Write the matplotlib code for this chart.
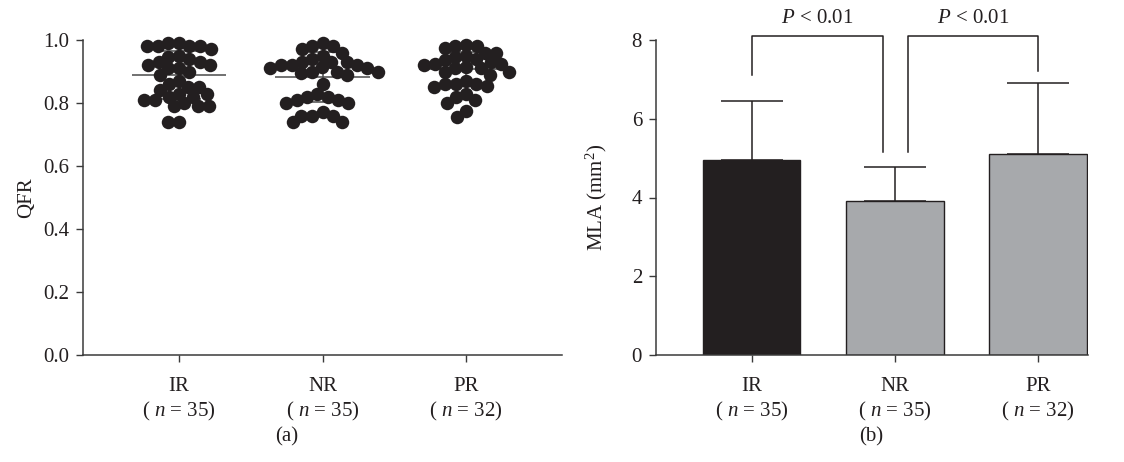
import numpy as np
import matplotlib
matplotlib.use("Agg")
import matplotlib.pyplot as plt

# ---------------- data ----------------
groups = ["IR", "NR", "PR"]
group_n = [35, 35, 32]

ir_qfr = [0.98, 0.98, 0.99, 0.97, 0.99, 0.98, 0.98,
          0.95, 0.94, 0.93, 0.92, 0.91, 0.89, 0.90, 0.91, 0.92, 0.93, 0.945,
          0.86, 0.85, 0.83, 0.82, 0.81, 0.80, 0.81, 0.82, 0.83, 0.84, 0.85, 0.87,
          0.79, 0.79, 0.79, 0.74, 0.74]
nr_qfr = [0.98, 0.98, 0.99, 0.97, 0.96, 0.95, 0.94,
          0.93, 0.93,
          0.92, 0.92, 0.915, 0.90, 0.895, 0.89, 0.90, 0.91, 0.92, 0.93, 0.90, 0.91,
          0.86,
          0.83, 0.81, 0.82, 0.80, 0.82, 0.80, 0.81,
          0.76, 0.76, 0.74, 0.74, 0.76, 0.77]
pr_qfr = [0.98, 0.96, 0.985, 0.975, 0.98, 0.96,
          0.945, 0.935, 0.925, 0.915, 0.90, 0.89, 0.91, 0.925, 0.94, 0.95, 0.93, 0.92, 0.91, 0.90,
          0.86, 0.86, 0.855, 0.86, 0.87, 0.85,
          0.83, 0.82, 0.81, 0.80, 0.775, 0.755]
qfr_mean = [0.889, 0.883, 0.909]
qfr_sd = [0.075, 0.079, 0.054]

mla_mean = [4.95, 3.92, 5.10]
mla_sd = [1.50, 0.86, 1.82]

p_text = ["$P$ < 0.01", "$P$ < 0.01"]
qfr_ticks = [0.0, 0.2, 0.4, 0.6, 0.8, 1.0]
mla_ticks = [0, 2, 4, 6, 8]

# ---------------- style ----------------
plt.rcParams["font.family"] = ["Liberation Serif", "DejaVu Serif"]
plt.rcParams["mathtext.fontset"] = "custom"
plt.rcParams["mathtext.rm"] = "Liberation Serif"
plt.rcParams["mathtext.it"] = "Liberation Serif:italic"
FS = 15
plt.rcParams["font.size"] = FS

INK = "#231f20"
AX = "#3a3a3a"
GRAY = "#a7a9ac"

W, H = 1124, 462
fig = plt.figure(figsize=(W / 100, H / 100), dpi=100)

def frac(x0, x1, ytop, ybot):
    return [x0 / W, 1 - ybot / H, (x1 - x0) / W, (ybot - ytop) / H]

ax1 = fig.add_axes(frac(83, 562, 40, 355))
ax2 = fig.add_axes(frac(656, 1088, 40, 355))

xlabels = [f"{g}\n( $n$ = {n})" for g, n in zip(groups, group_n)]
x = np.arange(len(groups))

for ax in (ax1, ax2):
    for s in ("top", "right"):
        ax.spines[s].set_visible(False)
    for s in ("left", "bottom"):
        ax.spines[s].set_color(AX)
        ax.spines[s].set_linewidth(1.1)
    ax.tick_params(direction="out", length=5, width=1.0, color=AX,
                   labelcolor=INK, labelsize=FS)
    ax.tick_params(axis="x", pad=11)
    ax.tick_params(axis="y", pad=5)
    ax.set_xticks(x)
    ax.set_xticklabels(xlabels, linespacing=1.25)

# ---------------- panel (a) ----------------
ax1.set_xlim(-0.67, 2.67)
ax1.set_ylim(0, 1.0)
ax1.set_yticks(qfr_ticks)
ax1.set_yticklabels([f"{t:.1f}" for t in qfr_ticks])
ax1.set_ylabel("QFR", color=INK, labelpad=5)

# swarm layout computed in pixel space
fig.canvas.draw()
def swarm(vals, center, ax, diam_px, frac_min=0.8):
    vals = np.asarray(vals, float)
    pts = ax.transData.transform(np.column_stack([np.full(len(vals), center), vals]))
    cx = pts[0, 0]
    ys = pts[:, 1]
    mind = diam_px * frac_min
    order = np.argsort(-vals, kind="stable")
    placed = []
    xs = np.zeros(len(vals))
    for i in order:
        y = ys[i]
        cands = [0.0]
        for (px, py) in placed:
            dy = abs(py - y)
            if dy < mind:
                dx = np.sqrt(mind ** 2 - dy ** 2) + 1e-3
                cands += [px + dx, px - dx]
        cands = sorted(cands, key=lambda c: (abs(c), c))
        chosen = None
        for c in cands:
            if all((c - px) ** 2 + (y - py) ** 2 >= mind ** 2 - 1e-2 for px, py in placed):
                chosen = c
                break
        if chosen is None:
            chosen = max(cands, key=abs)
        xs[i] = chosen
        placed.append((chosen, y))
    data = ax.transData.inverted().transform(np.column_stack([cx + xs, ys]))
    return data[:, 0]

diam = 13.5
for gi, vals in enumerate([ir_qfr, nr_qfr, pr_qfr]):
    m, sd = qfr_mean[gi], qfr_sd[gi]
    ax1.hlines(m, gi - 0.33, gi + 0.33, color="#4a4a4a", lw=1.1, zorder=2)
    ax1.vlines(gi, m - sd, m + sd, color="#4a4a4a", lw=1.1, zorder=2)
    ax1.hlines([m - sd, m + sd], gi - 0.15, gi + 0.15, color="#4a4a4a", lw=1.1, zorder=2)
    xs = swarm(vals, gi, ax1, diam)
    ax1.plot(xs, vals, "o", ms=diam * 72 / 100, color=INK, mec=INK, mew=0,
             linestyle="none", zorder=3, clip_on=False)

# ---------------- panel (b) ----------------
ax2.set_xlim(-0.67, 2.35)
ax2.set_ylim(0, 8)
ax2.set_yticks(mla_ticks)
ax2.set_ylabel("MLA (mm$^2$)", color=INK, labelpad=16)
bar_colors = [INK, GRAY, GRAY]
ax2.errorbar(x, mla_mean, yerr=[np.zeros(3), mla_sd], fmt="none", ecolor=INK,
             elinewidth=1.1, capsize=22, capthick=1.1, zorder=1)
ax2.bar(x, mla_mean, width=0.68, color=bar_colors, edgecolor=INK, linewidth=1.0, zorder=2)

# significance brackets
br_top = 8.1
brackets = [(0, 0.92, 7.1, 5.15), (1.09, 2.0, 5.15, 7.22)]
for (xa, xb, ya, yb), txt in zip(brackets, p_text):
    ax2.plot([xa, xa, xb, xb], [ya, br_top, br_top, yb], color=INK, lw=1.1,
             clip_on=False, zorder=3)
    ax2.text((xa + xb) / 2, br_top + 0.2, txt, ha="center", va="bottom",
             color=INK, fontsize=FS, clip_on=False)

# panel labels
fig.text(287 / W, 1 - 437 / H, "(a)", ha="center", va="center", color=INK, fontsize=FS)
fig.text(871 / W, 1 - 437 / H, "(b)", ha="center", va="center", color=INK, fontsize=FS)

fig.savefig("out.png", dpi=100)
